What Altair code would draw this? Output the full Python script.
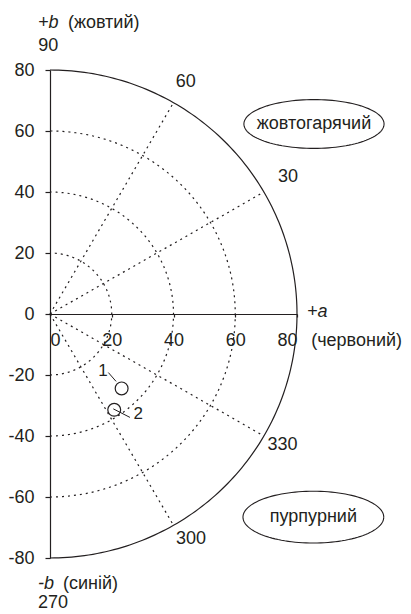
import numpy as np
import pandas as pd
import altair as alt

# ---- data ----
grid_radii = [20, 40, 60]
outer_radius = [80]
radial_angles = [30, 60, 300, 330]

angle_labels = ["90", "60", "30", "330", "300", "270"]
angle_label_a = [-0.6, 44.0, 77.1, 75.3, 45.7, 1.0]
angle_label_b = [88.0, 76.2, 44.8, -42.8, -73.9, -94.7]

point_ids = ["1", "2"]
point_a = [23.2, 20.8]
point_b = [-24.4, -31.4]
point_label_a = [17.2, 28.6]
point_label_b = [-18.6, -32.8]
leader_a1 = [18.9, 20.5]
leader_b1 = [-19.2, -31.1]
leader_a2 = [21.4, 25.9]
leader_b2 = [-22.1, -33.9]

region_names = ["жовтогарячий", "пурпурний"]
region_a = [85.5, 85.3]
region_b = [62.3, -66.6]
region_ra = [22.7, 22.8]
region_rb = [8.0, 8.5]

axis_italic = ["+b", "-b", "+a"]
axis_italic_a = [-3.9, -3.9, 83.2]
axis_italic_b = [95.4, -88.5, 0.7]
axis_names = ["(жовтий)", "(синій)", "(червоний)"]
axis_names_a = [5.8, 4.2, 84.6]
axis_names_b = [95.4, -88.5, -8.9]

x_ticks = [0, 20, 40, 60, 80]
y_ticks = [-80, -60, -40, -20, 0, 20, 40, 60, 80]

INK = "#231f20"
FONT = "Liberation Sans"
FS = 18

# ---- geometry tables ----
def arc_rows(radii):
    rows = []
    for r in radii:
        for i, t in enumerate(np.linspace(-90, 90, 181)):
            rows.append({"r": r, "i": i, "a": r * np.cos(np.radians(t)), "b": r * np.sin(np.radians(t))})
    return pd.DataFrame(rows)

grid_df = arc_rows(grid_radii)
outer_df = arc_rows(outer_radius)

rad_rows = []
for ang in radial_angles:
    rad_rows.append({"g": ang, "i": 0, "a": 0.0, "b": 0.0})
    rad_rows.append({"g": ang, "i": 1, "a": 80 * np.cos(np.radians(ang)), "b": 80 * np.sin(np.radians(ang))})
rad_df = pd.DataFrame(rad_rows)

ell_rows = []
for k, name in enumerate(region_names):
    for i, t in enumerate(np.linspace(0, 2 * np.pi, 121)):
        ell_rows.append({"g": name, "i": i,
                         "a": region_a[k] + region_ra[k] * np.cos(t),
                         "b": region_b[k] + region_rb[k] * np.sin(t)})
ell_df = pd.DataFrame(ell_rows)

lead_rows = []
for k in range(len(point_ids)):
    lead_rows.append({"g": point_ids[k], "i": 0, "a": leader_a1[k], "b": leader_b1[k]})
    lead_rows.append({"g": point_ids[k], "i": 1, "a": leader_a2[k], "b": leader_b2[k]})
lead_df = pd.DataFrame(lead_rows)

pts_df = pd.DataFrame({"id": point_ids, "a": point_a, "b": point_b})
pt_lab_df = pd.DataFrame({"t": point_ids, "a": point_label_a, "b": point_label_b})
ang_df = pd.DataFrame({"t": angle_labels, "a": angle_label_a, "b": angle_label_b})
reg_df = pd.DataFrame({"t": region_names, "a": region_a, "b": region_b})
it_df = pd.DataFrame({"t": axis_italic, "a": axis_italic_a, "b": axis_italic_b})
nm_df = pd.DataFrame({"t": axis_names, "a": axis_names_a, "b": axis_names_b})

xs = alt.Scale(domain=[0, 80], nice=False, zero=False)
ys = alt.Scale(domain=[-80, 80], nice=False, zero=False)

x_axis = alt.Axis(values=x_ticks, offset=-244, grid=False, title=None,
                  labelFontSize=FS, labelFont=FONT, labelColor=INK,
                  domainColor=INK, tickColor=INK, tickSize=3,
                  labelPadding=14, labelExpr="'' + datum.value",
                  domainWidth=1.2, tickWidth=1.2)
y_axis = alt.Axis(values=y_ticks, grid=False, title=None,
                  labelFontSize=FS, labelFont=FONT, labelColor=INK,
                  domainColor=INK, tickColor=INK, tickSize=5,
                  labelPadding=11, labelExpr="'' + datum.value",
                  domainWidth=1.2, tickWidth=1.2)

X = alt.X("a:Q", scale=xs, axis=x_axis)
Y = alt.Y("b:Q", scale=ys, axis=y_axis)

grid = alt.Chart(grid_df).mark_line(color=INK, strokeDash=[2, 4], strokeWidth=1.2).encode(
    x=X, y=Y, detail="r:N", order="i:Q")
outer = alt.Chart(outer_df).mark_line(color=INK, strokeWidth=1.2).encode(
    x=X, y=Y, detail="r:N", order="i:Q")
radial = alt.Chart(rad_df).mark_line(color=INK, strokeDash=[2, 4], strokeWidth=1.2).encode(
    x=X, y=Y, detail="g:N", order="i:Q")
ellipses = alt.Chart(ell_df).mark_line(color=INK, strokeWidth=1.1).encode(
    x=X, y=Y, detail="g:N", order="i:Q")
leaders = alt.Chart(lead_df).mark_line(color=INK, strokeWidth=1).encode(
    x=X, y=Y, detail="g:N", order="i:Q")
points = alt.Chart(pts_df).mark_point(shape="circle", size=165, filled=False, color=INK,
                                      strokeWidth=1.2, opacity=1).encode(x=X, y=Y)

def text_layer(df, **kw):
    params = dict(font=FONT, fontSize=FS, color=INK, baseline="middle", align="center")
    params.update(kw)
    return alt.Chart(df).mark_text(**params).encode(x=X, y=Y, text="t:N")

pt_labels = text_layer(pt_lab_df, fontSize=17)
ang_text = text_layer(ang_df)
reg_text = text_layer(reg_df)
it_text = text_layer(it_df, align="left", fontStyle="italic")
nm_text = text_layer(nm_df, align="left")

chart = alt.layer(
    grid, radial, outer, ellipses, leaders, points,
    pt_labels, ang_text, reg_text, it_text, nm_text
).properties(
    width=247, height=488,
    autosize=alt.AutoSizeParams(type="none"),
    padding={"left": 42, "top": 62, "right": 106, "bottom": 54},
).configure_view(strokeWidth=0)

chart.save("out.html", embed_options={"renderer": "svg", "actions": False})
